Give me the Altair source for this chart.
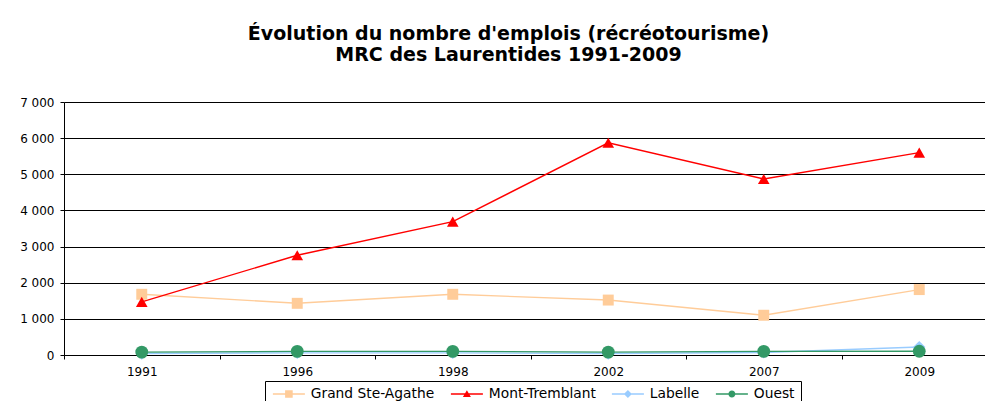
import altair as alt
import pandas as pd

years = ["1991", "1996", "1998", "2002", "2007", "2009"]
series_names = ["Grand Ste-Agathe", "Mont-Tremblant", "Labelle", "Ouest"]
grand = [1680, 1430, 1680, 1520, 1100, 1810]
mont = [1470, 2760, 3690, 5870, 4870, 5600]
labelle = [40, 60, 60, 40, 70, 220]
ouest = [80, 100, 100, 80, 100, 105]
colors = ["#FFCC99", "#FF0000", "#99CCFF", "#339966"]
shapes = ["square", "triangle-up", "diamond", "circle"]
marker_sizes = [120, 165, 45, 115]
# legend symbols: a line with the series marker, in units of r = sqrt(size)/2 = 5px
LINE = "M-1,-0.14H5.4V0.14H-1Z "
legend_paths = [
    LINE + "M1.44,-0.76H2.96V0.76H1.44Z",
    LINE + "M2.2,-0.75L3.0,0.6L1.4,0.6Z",
    LINE + "M2.2,-0.8L3.0,0L2.2,0.8L1.4,0Z",
    LINE + "M1.5,0A0.7,0.7 0 1,1 2.9,0A0.7,0.7 0 1,1 1.5,0Z",
]

rows = []
for k, (name, vals) in enumerate(zip(series_names, [grand, mont, labelle, ouest])):
    for yr, v in zip(years, vals):
        rows.append({"year": yr, "value": v, "serie": name, "serie_leg": name, "order": k})
df = pd.DataFrame(rows)

FONT = "DejaVu Sans"

x_enc = alt.X("year:O", sort=years, title=None,
              scale=alt.Scale(type="band", range=[0, 933], paddingInner=0, paddingOuter=0),
              axis=alt.Axis(labelAngle=0, tickBand="extent", tickSize=4, labelPadding=7,
                            labelFontSize=12, labelFont=FONT, labelColor="black",
                            domainColor="black", tickColor="black", grid=False))
y_enc = alt.Y("value:Q", title=None,
              scale=alt.Scale(domain=[0, 7000], nice=False),
              axis=alt.Axis(values=list(range(0, 7001, 1000)), tickSize=4, labelPadding=6,
                            labelFontSize=12, labelFont=FONT, labelColor="black",
                            labelExpr="replace(format(datum.value, ','), ',', ' ')",
                            domainColor="black", tickColor="black",
                            gridColor="black", gridWidth=1, gridOpacity=1))

color_scale = alt.Scale(domain=series_names, range=colors)
base = alt.Chart(df)

lines = base.mark_line(strokeWidth=1.4).encode(
    x=x_enc, y=y_enc,
    color=alt.Color("serie:N", scale=color_scale, legend=None),
    order="order:Q",
)

points = base.mark_point(filled=True, opacity=1).encode(
    x=x_enc, y=y_enc,
    color=alt.Color("serie:N", scale=color_scale, legend=None),
    shape=alt.Shape("serie:N", scale=alt.Scale(domain=series_names, range=shapes), legend=None),
    size=alt.Size("serie:N", scale=alt.Scale(domain=series_names, range=marker_sizes), legend=None),
)

leg = dict(orient="none", legendX=201, legendY=279, direction="horizontal",
           columns=4, symbolSize=100, symbolOpacity=1, symbolStrokeWidth=0,
           labelFontSize=13.8, labelFont=FONT, labelColor="black",
           labelLimit=0, labelOffset=26, columnPadding=14, padding=6,
           strokeColor="black", fillColor="white")

legend_layer = base.mark_point(filled=True, opacity=0).encode(
    x=x_enc, y=y_enc,
    color=alt.Color("serie_leg:N", scale=alt.Scale(domain=series_names, range=colors),
                    title=None, legend=alt.Legend(**leg)),
    shape=alt.Shape("serie_leg:N", scale=alt.Scale(domain=series_names, range=legend_paths),
                    title=None, legend=alt.Legend(**leg)),
)

chart = alt.layer(lines, points, legend_layer).resolve_scale(
    color="independent", shape="independent"
).properties(
    width=921, height=253,
    padding={"left": 56, "top": 94, "right": 0, "bottom": 46},
    autosize=alt.AutoSizeParams(type="none"),
    title=alt.TitleParams(
        text=["Évolution du nombre d'emplois (récréotourisme)", "MRC des Laurentides 1991-2009"],
        fontSize=19, font=FONT, fontWeight="bold", color="black",
        anchor="middle", dx=-16, offset=31, lineHeight=21,
    ),
).configure_view(stroke=None)

chart.save("out.html", embed_options={"renderer": "svg", "actions": False})
